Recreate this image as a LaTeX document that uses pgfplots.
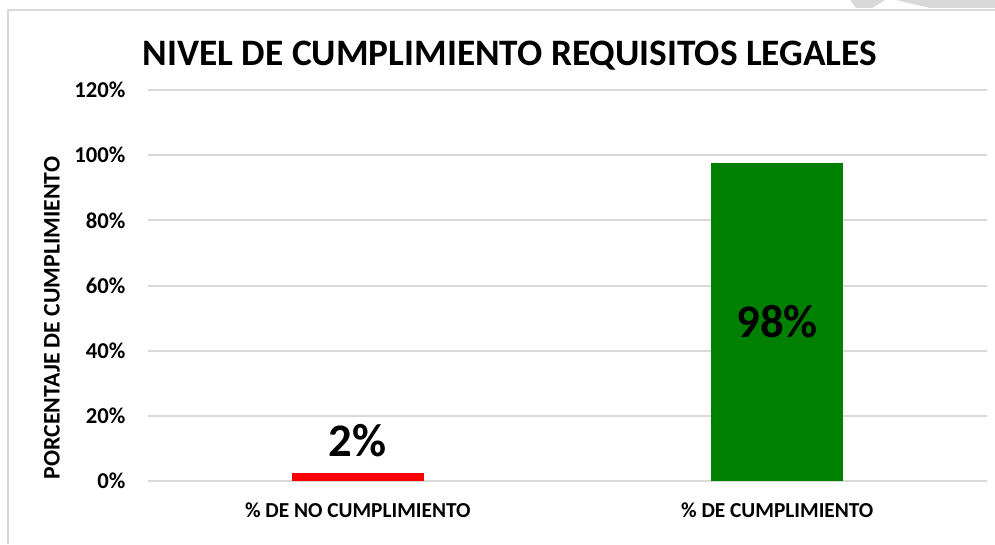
\documentclass[border=0pt]{standalone}
\usepackage{fontspec}
\setmainfont{Carlito}
\usepackage{pgfplots}
\pgfplotsset{compat=1.18}
\definecolor{gridgray}{RGB}{217,217,217}
\definecolor{barred}{RGB}{255,0,0}
\definecolor{bargreen}{RGB}{0,128,0}
\begin{document}
\begin{tikzpicture}[x=0.75pt,y=0.75pt]
\useasboundingbox (0,0) rectangle (995,544);
% frame and the light shapes at the top right
\draw[gridgray,line width=1.5pt] (8,0) -- (8,534) -- (995,534);
\fill[gridgray] (850,544) -- (885,544) -- (872,536) -- (856,536) -- cycle;
\fill[gridgray] (896,544) -- (995,544) -- (995,536) -- (930,536) -- cycle;
\begin{axis}[
  at={(111pt,47.25pt)}, anchor=south west,
  scale only axis, width=629.25pt, height=293.25pt,
  ybar, bar width=99pt,
  xmin=-0.5, xmax=1.5, ymin=0, ymax=120,
  xtick={0,1}, xticklabels={\% DE NO CUMPLIMIENTO,\% DE CUMPLIMIENTO},
  ytick={0,20,...,120},
  yticklabel={\pgfmathprintnumber{\tick}\%},
  /pgf/number format/assume math mode=true,
  y tick label style={font=\bfseries\fontsize{17}{19}\selectfont, xshift=-13.5pt},
  x tick label style={font=\bfseries\fontsize{16}{18}\selectfont, yshift=-13pt},
  major tick length=0pt,
  axis line style={draw=none},
  ymajorgrids, grid style={gridgray,line width=1.5pt},
  ylabel={\bfseries PORCENTAJE DE CUMPLIMIENTO},
  ylabel style={font=\fontsize{17.8}{20}\selectfont, at={(axis description cs:-0.1144,0.417)}, anchor=center},
  clip=false,
]
\addplot[fill=barred, draw=none, bar shift=0pt] coordinates {(0,2.4)};
\addplot[fill=bargreen, draw=none, bar shift=0pt] coordinates {(1,97.6)};
\node[font=\bfseries\fontsize{35}{40}\selectfont, anchor=base] at (axis cs:0,7.5) {2\%};
\node[font=\bfseries\fontsize{35}{40}\selectfont] at (axis cs:1,48.8) {98\%};
\end{axis}
\node[font=\bfseries\fontsize{28}{32}\selectfont, anchor=base] at (510,479) {NIVEL DE CUMPLIMIENTO REQUISITOS LEGALES};
\end{tikzpicture}
\end{document}
